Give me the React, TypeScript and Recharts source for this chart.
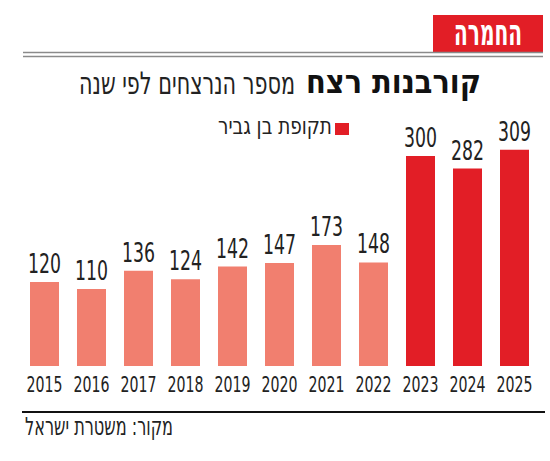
import React from 'react';
import { BarChart, Bar, XAxis, YAxis, Cell, LabelList } from 'recharts';

const years = ['2015', '2016', '2017', '2018', '2019', '2020', '2021', '2022', '2023', '2024', '2025'];
const victims = [120, 110, 136, 124, 142, 147, 173, 148, 300, 282, 309];
const benGvirYears = ['2023', '2024', '2025'];

const data = years.map((year, i) => ({ year, victims: victims[i] }));

const PALE = '#F17F6F';
const RED = '#E21E26';
const FONT = "'DejaVu Sans Condensed', 'DejaVu Sans', sans-serif";

const YearTick = (props: any) => {
  const { x, y, payload } = props;
  return (
    <text x={x - 18} y={y} dy={26} fontSize={21} fill="#222" fontFamily={FONT}
      textLength={36} lengthAdjust="spacingAndGlyphs">
      {payload.value}
    </text>
  );
};

const ValueLabel = (props: any) => {
  const { x, y, width, value } = props;
  const w = String(value).length * 11;
  return (
    <text x={x + width / 2 - w / 2} y={y - 9} fontSize={26} fill="#222" fontFamily={FONT}
      textLength={w} lengthAdjust="spacingAndGlyphs">
      {value}
    </text>
  );
};

const App = () => {
  return (
    <div style={{ position: 'absolute', left: 0, top: 0, width: 550, height: 461, background: '#fff' }}>
      <BarChart
        width={550}
        height={400}
        data={data}
        margin={{ top: 121, right: 12, bottom: 0, left: 21 }}
        style={{ position: 'absolute', left: 0, top: 0 }}
      >
        <XAxis
          dataKey="year"
          axisLine={false}
          tickLine={false}
          tickSize={0}
          tickMargin={0}
          height={34}
          interval={0}
          tick={<YearTick />}
        />
        <YAxis hide domain={[0, 350]} />
        <Bar dataKey="victims" barSize={29} isAnimationActive={false}>
          {data.map((d) => (
            <Cell key={d.year} fill={benGvirYears.includes(d.year) ? RED : PALE} />
          ))}
          <LabelList dataKey="victims" content={<ValueLabel />} />
        </Bar>
      </BarChart>
      <svg
        width={550}
        height={461}
        style={{ position: 'absolute', left: 0, top: 0, pointerEvents: 'none' }}
      >
        {/* header tag */}
        <rect x={433} y={15} width={110} height={38} fill={RED} />
        <text x={454} y={45} fontSize={36} fontWeight="bold" fill="#fff" fontFamily={FONT}
          textLength={68} lengthAdjust="spacingAndGlyphs">החמרה</text>
        <line x1={23} x2={543} y1={52.5} y2={52.5} stroke="#8a8a8a" strokeWidth={1.5} />
        <line x1={23} x2={543} y1={56.5} y2={56.5} stroke="#8a8a8a" strokeWidth={1.5} />

        {/* title */}
        <text x={306} y={93} fontSize={33} fontWeight="bold" fill="#111" fontFamily={FONT}
          textLength={175} lengthAdjust="spacingAndGlyphs">קורבנות רצח</text>
        <text x={79} y={94} fontSize={31} fill="#222" fontFamily={FONT}
          textLength={216} lengthAdjust="spacingAndGlyphs">מספר הנרצחים לפי שנה</text>

        {/* legend */}
        <rect x={335} y={123} width={14} height={12} fill={RED} />
        <text x={218} y={134} fontSize={23} fill="#222" fontFamily={FONT}
          textLength={114} lengthAdjust="spacingAndGlyphs">תקופת בן גביר</text>

        {/* footer */}
        <line x1={22} x2={545} y1={412} y2={412} stroke="#111" strokeWidth={2} />
        <text x={25} y={435} fontSize={25} fill="#222" fontFamily={FONT}
          textLength={148} lengthAdjust="spacingAndGlyphs">מקור: משטרת ישראל</text>
      </svg>
    </div>
  );
};

export default App;
